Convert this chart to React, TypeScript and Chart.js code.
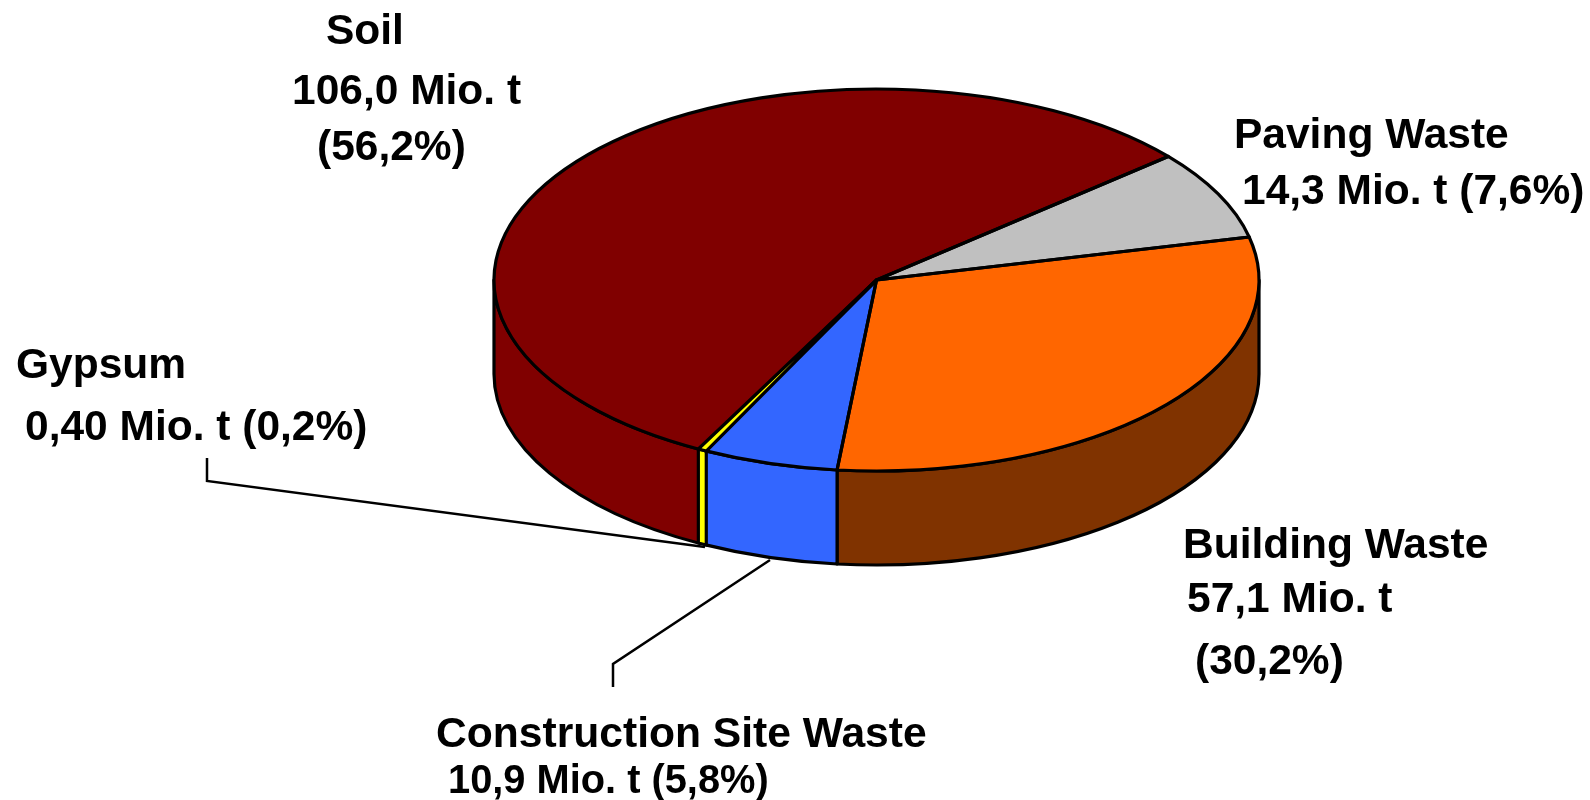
import React, { useEffect, useRef } from "react";
import { Chart, registerables } from "chart.js";

Chart.register(...registerables);

const categories = ["Paving Waste", "Building Waste", "Construction Site Waste", "Gypsum", "Soil"];
const values = [14.3, 57.1, 10.9, 0.4, 106.0];
const topColors = ["#C0C0C0", "#FF6600", "#3366FF", "#FFFF00", "#800000"];
const sideColors = ["#606060", "#803300", "#3366FF", "#FFFF00", "#800000"];

const labelLines = [
  "Soil",
  "106,0 Mio. t",
  "(56,2%)",
  "Paving Waste",
  "14,3 Mio. t (7,6%)",
  "Building Waste",
  "57,1 Mio. t",
  "(30,2%)",
  "Gypsum",
  "0,40 Mio. t (0,2%)",
  "Construction Site Waste",
  "10,9 Mio. t (5,8%)",
];

const W = 1590;
const H = 800;
const CX = 876.5;
const CY = 280;
const RX = 382.5;
const RY = 191;
const DEPTH = 94;
const LINE = 3.2;
const THIN_PAD = 0.005;
const GYPSUM = categories.indexOf("Gypsum");
const fontOf = (px: number) => `bold ${px}px 'Liberation Sans', Arial, sans-serif`;

const labelSizes = [42.5, 42.5, 42.5, 42.5, 42.5, 42.5, 42.5, 42.5, 42.5, 42.5, 42.6, 39.8];

const labelPos: [number, number][] = [
  [326, 44],
  [292, 104],
  [317, 160],
  [1234, 148],
  [1242, 204],
  [1183, 558],
  [1187, 612],
  [1195, 674],
  [16, 378],
  [25, 440],
  [436, 747],
  [448, 793],
];

const leaderLines: [number, number][][] = [
  [[207, 458], [207, 481], [705, 547]],
  [[613, 687], [613, 664], [770, 560]],
];

function drawWall(ctx: any, a0: number, a1: number, color: string) {
  const twoPi = Math.PI * 2;
  [0, twoPi].forEach((shift) => {
    const s = Math.max(a0 - shift, 0);
    const e = Math.min(a1 - shift, Math.PI);
    if (e > s) {
      ctx.beginPath();
      ctx.ellipse(CX, CY, RX, RY, 0, s, e);
      ctx.ellipse(CX, CY + DEPTH, RX, RY, 0, e, s, true);
      ctx.closePath();
      ctx.fillStyle = color;
      ctx.fill();
      ctx.stroke();
    }
  });
}

const pie3d = {
  id: "pie3d",
  beforeDatasetsDraw(chart: any) {
    const ctx = chart.ctx;
    const arcs = chart.getDatasetMeta(0).data;
    ctx.save();
    ctx.lineWidth = LINE;
    ctx.lineJoin = "round";
    ctx.strokeStyle = "#000";
    const twoPi = Math.PI * 2;
    const norm = (arc: any) => {
      let a0 = arc.startAngle;
      let a1 = arc.endAngle;
      while (a0 < 0) { a0 += twoPi; a1 += twoPi; }
      return [a0, a1];
    };
    arcs.forEach((arc: any, i: number) => {
      if (i === GYPSUM) return;
      const [a0, a1] = norm(arc);
      drawWall(ctx, a0, a1, sideColors[i]);
    });
    const [g0, g1] = norm(arcs[GYPSUM]);
    drawWall(ctx, g0 - THIN_PAD, g1 + THIN_PAD, sideColors[GYPSUM]);
    ctx.restore();
    const y0 = arcs[0].y;
    ctx.save();
    ctx.translate(0, CY);
    ctx.scale(1, RY / RX);
    ctx.translate(0, -y0);
  },
  afterDatasetsDraw(chart: any) {
    const ctx = chart.ctx;
    ctx.restore();
    const arcs = chart.getDatasetMeta(0).data;
    ctx.save();
    ctx.lineWidth = LINE;
    ctx.lineJoin = "round";
    ctx.strokeStyle = "#000";
    arcs.forEach((arc: any, i: number) => {
      if (i === GYPSUM) return;
      ctx.beginPath();
      ctx.moveTo(CX, CY);
      ctx.ellipse(CX, CY, RX, RY, 0, arc.startAngle, arc.endAngle);
      ctx.closePath();
      ctx.stroke();
    });
    const g = arcs[GYPSUM];
    ctx.beginPath();
    ctx.moveTo(CX, CY);
    ctx.ellipse(CX, CY, RX, RY, 0, g.startAngle - THIN_PAD, g.endAngle + THIN_PAD);
    ctx.closePath();
    ctx.fillStyle = topColors[GYPSUM];
    ctx.fill();
    ctx.stroke();
    ctx.restore();
  },
  afterDraw(chart: any) {
    const ctx = chart.ctx;
    ctx.save();
    ctx.strokeStyle = "#000";
    ctx.lineWidth = 2.5;
    leaderLines.forEach((pts) => {
      ctx.beginPath();
      pts.forEach(([x, y], i) => (i ? ctx.lineTo(x, y) : ctx.moveTo(x, y)));
      ctx.stroke();
    });
    ctx.fillStyle = "#000";
    ctx.textAlign = "left";
    ctx.textBaseline = "alphabetic";
    labelLines.forEach((t, i) => {
      ctx.font = fontOf(labelSizes[i]);
      ctx.fillText(t, labelPos[i][0], labelPos[i][1]);
    });
    ctx.restore();
  },
};

export default function App() {
  const ref = useRef<HTMLCanvasElement>(null);
  useEffect(() => {
    document.body.style.margin = "0";
    document.body.style.background = "#fff";
    const chart = new Chart(ref.current!, {
      type: "pie",
      data: {
        labels: categories,
        datasets: [
          {
            data: values,
            backgroundColor: topColors,
            borderWidth: 0,
            clip: false,
          } as any,
        ],
      },
      options: {
        responsive: false,
        animation: false,
        rotation: 49.7,
        layout: {
          padding: {
            left: CX - RX,
            right: W - CX - RX,
            top: H / 2 - RX,
            bottom: H / 2 - RX,
          },
        },
        plugins: { legend: { display: false }, tooltip: { enabled: false } },
      },
      plugins: [pie3d],
    });
    return () => chart.destroy();
  }, []);
  return (
    <canvas
      ref={ref}
      width={W}
      height={H}
      style={{ position: "absolute", left: 0, top: 0, display: "block", width: W, height: H }}
    />
  );
}
